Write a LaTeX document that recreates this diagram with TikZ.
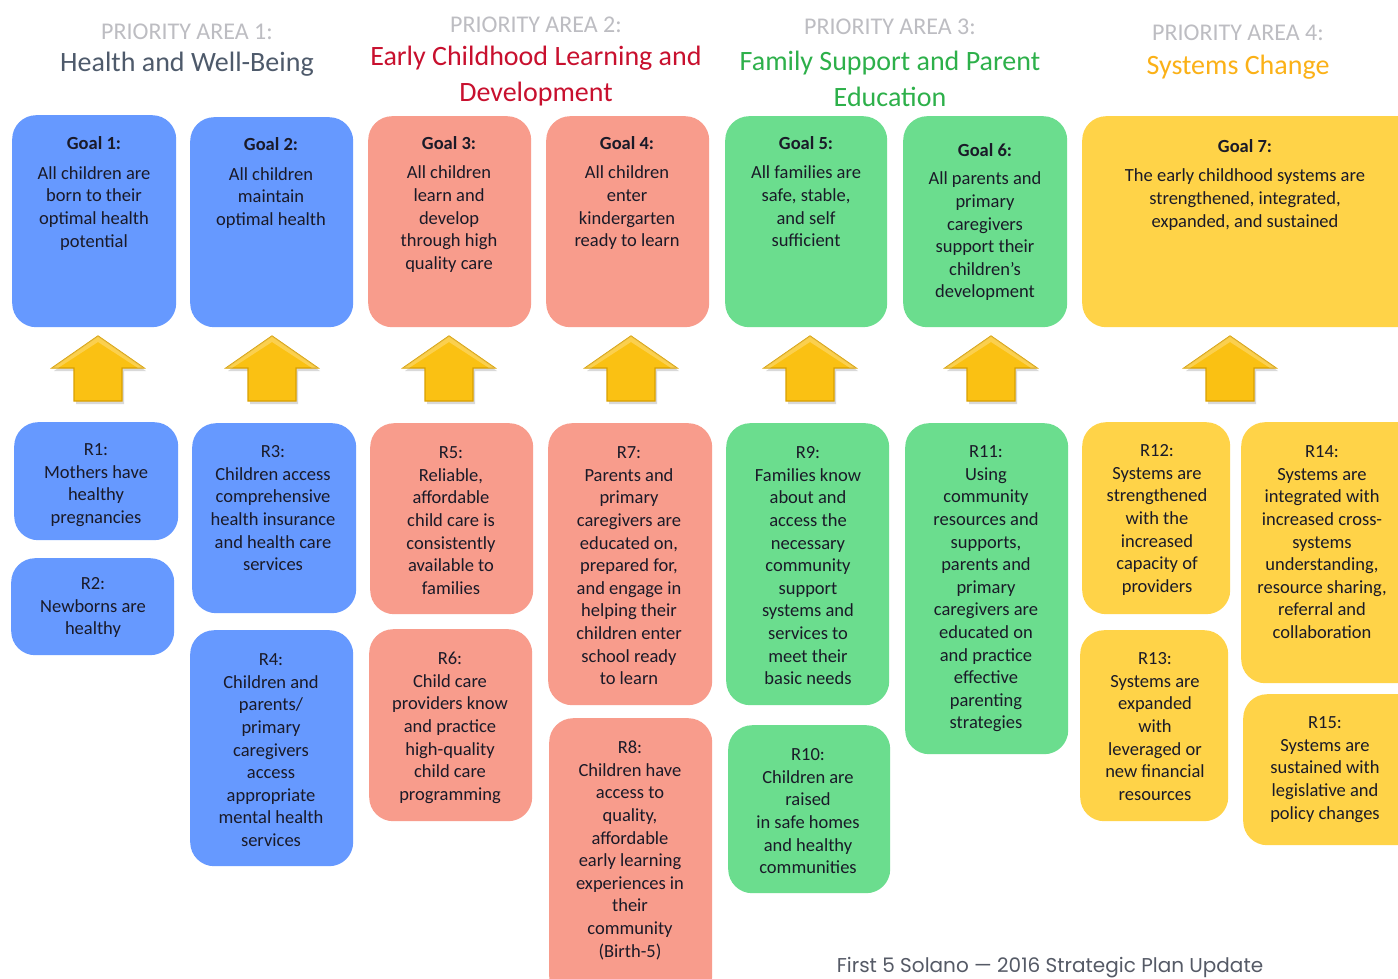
\documentclass[tikz,border=0pt]{standalone}
\usepackage{fontspec}
\setmainfont{Carlito}
\newfontfamily\footfont{Poppins}
\definecolor{cblue}{HTML}{6699FF}
\definecolor{csalmon}{HTML}{F89C8C}
\definecolor{cgreen}{HTML}{6BDD8E}
\definecolor{cyellow}{HTML}{FFD348}
\definecolor{ctxt}{HTML}{1A1A28}
\definecolor{cpri}{HTML}{BDBDC2}
\definecolor{tslate}{HTML}{4E5A6B}
\definecolor{tred}{HTML}{C8102E}
\definecolor{tgreen}{HTML}{2DB04A}
\definecolor{torange}{HTML}{FBB117}
\definecolor{afill}{HTML}{FAC113}
\definecolor{aedge}{HTML}{D9A000}
\definecolor{afoot}{HTML}{555A66}
\tikzset{
  bx/.style={rounded corners=24pt, inner sep=0pt, anchor=north west, draw=none},
  txt/.style={anchor=north, inner sep=0pt, align=center, text=ctxt, font=\fontsize{18.5}{22.6}\selectfont},
  pri/.style={text=cpri, font=\fontsize{24}{28}\selectfont, inner sep=0pt},
  ttl/.style={align=center, font=\fontsize{28}{36}\selectfont, inner sep=0pt},
  uparrow/.style={fill=afill, draw=aedge, line width=1.2pt, line join=miter},
}
\newcommand{\bx}[6]{\node[bx, fill=#6, minimum width={#4-#2}, minimum height={#5-#3}] (#1) at (#2,#3) {};}
\newcommand{\tx}[4]{\node[txt] (#1) at (#2,#3-10.3) {\strut #4};}
\newcommand{\uparr}[2]{%
  \coordinate (#1) at (#2,336);
  \fill[black!15] ([xshift=2,yshift=-3]#1) -- ++(46,32) -- ++(-22,0) -- ++(0,33) -- ++(-48,0) -- ++(0,-33) -- ++(-22,0) -- cycle;
  \draw[uparrow] (#1) -- ++(46,32) -- ++(-22,0) -- ++(0,33) -- ++(-48,0) -- ++(0,-33) -- ++(-22,0) -- cycle;
  \fill[white,opacity=0.25] (#1) -- ++(46,32) -- ++(-6,0) -- ++(-40,-26) -- ++(-40,26) -- ++(-6,0) -- cycle;
}
\begin{document}
\begin{tikzpicture}[x=1pt,y=-1pt]
\useasboundingbox[fill=white] (0,0) rectangle (1398,979);
\clip (0,0) rectangle (1398,979);

% ---- titles
\node[pri] (p1) at (187,32) {PRIORITY AREA 1:};
\node[ttl, text=tslate] (t1) at (187,64) {Health and Well-Being};
\node[pri] (p2) at (536,25) {PRIORITY AREA 2:};
\node[ttl, text=tred] (t2) at (536,76) {Early Childhood Learning and\\Development};
\node[pri] (p3) at (890,27) {PRIORITY AREA 3:};
\node[ttl, text=tgreen] (t3) at (890,79) {Family Support and Parent\\Education};
\node[pri] (p4) at (1238,33) {PRIORITY AREA 4:};
\node[ttl, text=torange] (t4) at (1238,67) {Systems Change};

% ---- goal boxes
\bx{g1}{12}{115}{176}{327}{cblue}
\bx{g2}{190}{117}{353}{327}{cblue}
\bx{g3}{368}{116}{531}{327}{csalmon}
\bx{g4}{546}{116}{709}{327}{csalmon}
\bx{g5}{725}{116}{887}{327}{cgreen}
\bx{g6}{903}{116}{1067}{327}{cgreen}
\bx{g7}{1082}{116}{1430}{327}{cyellow}

\tx{g1t}{94}{144}{\textbf{Goal 1:}\\[7pt]All children are\\born to their\\optimal health\\potential}
\tx{g2t}{271}{145}{\textbf{Goal 2:}\\[7pt]All children\\maintain\\optimal health}
\tx{g3t}{449}{144}{\textbf{Goal 3:}\\[6.5pt]All children\\learn and\\develop\\through high\\quality care}
\tx{g4t}{627}{144}{\textbf{Goal 4:}\\[6.5pt]All children\\enter\\kindergarten\\ready to learn}
\tx{g5t}{806}{144}{\textbf{Goal 5:}\\[6.5pt]All families are\\safe, stable,\\and self\\sufficient}
\tx{g6t}{985}{151}{\textbf{Goal 6:}\\[5.5pt]All parents and\\primary\\caregivers\\support their\\children’s\\development}
\tx{g7t}{1245}{147}{\textbf{Goal 7:}\\[6.5pt]The early childhood systems are\\strengthened, integrated,\\expanded, and sustained}

% ---- arrows
\uparr{a1}{98}
\uparr{a2}{272}
\uparr{a3}{449}
\uparr{a4}{631}
\uparr{a5}{810}
\uparr{a6}{991}
\uparr{a7}{1230}

% ---- result boxes
\bx{r1}{14}{422}{178}{540}{cblue}
\bx{r2}{11}{558}{174}{655}{cblue}
\bx{r3}{192}{423}{356}{613}{cblue}
\bx{r4}{190}{630}{353}{866}{cblue}
\bx{r5}{370}{423}{533}{614}{csalmon}
\bx{r6}{369}{629}{532}{821}{csalmon}
\bx{r7}{548}{423}{712}{705}{csalmon}
\bx{r8}{549}{718}{712}{1000}{csalmon}
\bx{r9}{726}{423}{889}{705}{cgreen}
\bx{r10}{728}{725}{890}{893}{cgreen}
\bx{r11}{905}{423}{1068}{754}{cgreen}
\bx{r12}{1082}{422}{1230}{614}{cyellow}
\bx{r13}{1080}{630}{1228}{821}{cyellow}
\bx{r14}{1241}{422}{1430}{683}{cyellow}
\bx{r15}{1243}{694}{1430}{845}{cyellow}

\tx{r1t}{96}{450}{R1:\\Mothers have\\healthy\\pregnancies}
\tx{r2t}{93}{584}{R2:\\Newborns are\\healthy}
\tx{r3t}{273}{452}{R3:\\Children access\\comprehensive\\health insurance\\and health care\\services}
\tx{r4t}{271}{660}{R4:\\Children and\\parents/\\primary\\caregivers\\access\\appropriate\\mental health\\services}
\tx{r5t}{451}{453}{R5:\\Reliable,\\affordable\\child care is\\consistently\\available to\\families}
\tx{r6t}{450}{659}{R6:\\Child care\\providers know\\and practice\\high-quality\\child care\\programming}
\tx{r7t}{629}{453}{R7:\\Parents and\\primary\\caregivers are\\educated on,\\prepared for,\\and engage in\\helping their\\children enter\\school ready\\to learn}
\tx{r8t}{630}{748}{R8:\\Children have\\access to\\quality,\\affordable\\early learning\\experiences in\\their\\community\\(Birth-5)}
\tx{r9t}{808}{453}{R9:\\Families know\\about and\\access the\\necessary\\community\\support\\systems and\\services to\\meet their\\basic needs}
\tx{r10t}{808}{755}{R10:\\Children are\\raised\\in safe homes\\and healthy\\communities}
\tx{r11t}{986}{452}{R11:\\Using\\community\\resources and\\supports,\\parents and\\primary\\caregivers are\\educated on\\and practice\\effective\\parenting\\strategies}
\tx{r12t}{1157}{451}{R12:\\Systems are\\strengthened\\with the\\increased\\capacity of\\providers}
\tx{r13t}{1155}{659}{R13:\\Systems are\\expanded\\with\\leveraged or\\new financial\\resources}
\tx{r14t}{1322}{452}{R14:\\Systems are\\integrated with\\increased cross-\\systems\\understanding,\\resource sharing,\\referral and\\collaboration}
\tx{r15t}{1325}{723}{R15:\\Systems are\\sustained with\\legislative and\\policy changes}

% ---- footer
\node[inner sep=0pt, text=afoot, font=\footfont\fontsize{20}{24}\selectfont] (foot) at (1050,968) {First 5 Solano — 2016 Strategic Plan Update};
\end{tikzpicture}
\end{document}
